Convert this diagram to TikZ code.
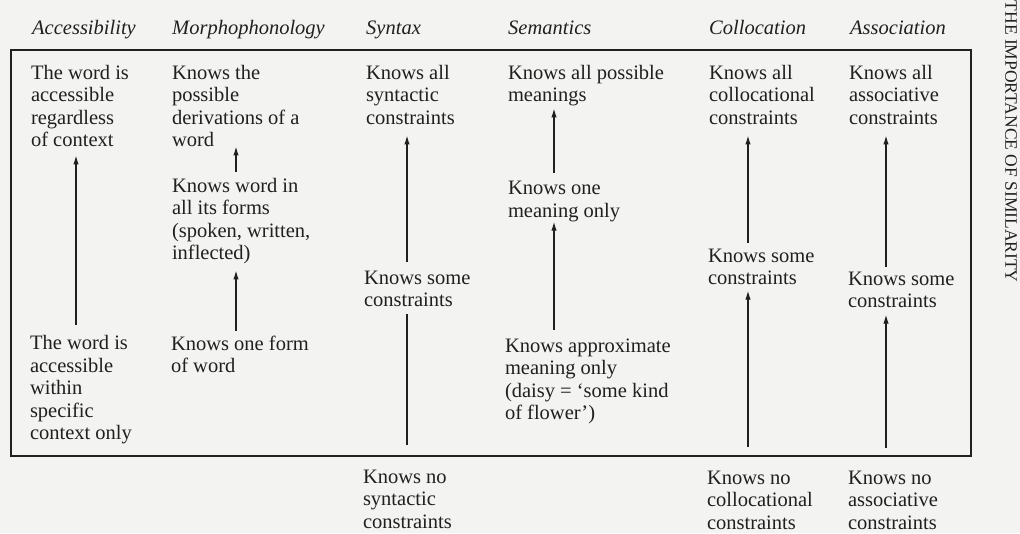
\documentclass[tikz,border=0pt]{standalone}
\usepackage{fontspec}
\setmainfont{Liberation Serif}
\usetikzlibrary{arrows.meta}
\definecolor{bg}{RGB}{243,243,241}
\definecolor{ink}{RGB}{32,32,32}
\begin{document}
\begin{tikzpicture}[x=1pt,y=-1pt,
  txt/.style={anchor=north west,inner sep=0pt,outer sep=0pt,align=left,text=ink,
    font=\fontsize{20.5}{22.5}\selectfont,execute at begin node=\strut,execute at end node=\strut},
  hdr/.style={anchor=base west,inner sep=0pt,text=ink,font=\fontsize{20.5}{22.5}\selectfont\itshape},
  arr/.style={draw=ink,line width=1.25pt,-{Latex[length=9pt,width=5.5pt]}},
  ln/.style={draw=ink,line width=1.25pt},
  frame/.style={draw=ink,line width=1.8pt}]
\useasboundingbox[fill=bg] (0,0) rectangle (1020,533);

% running head
\node[rotate=-90,anchor=west,inner sep=0pt,text=ink,font=\fontsize{17.5}{20}\selectfont] (runhead) at (1011,0.5) {THE IMPORTANCE OF SIMILARITY};

% headers
\node[hdr] (hA) at (32,34) {Accessibility};
\node[hdr] (hM) at (172,34) {Morphophonology};
\node[hdr] (hS) at (366,34) {Syntax};
\node[hdr] (hE) at (508,34) {Semantics};
\node[hdr] (hC) at (709,34) {Collocation};
\node[hdr] (hX) at (850,34) {Association};

% frame
\draw[frame] (11,50) rectangle (971,456);

% top row
\node[txt] (accT) at (31,65.25) {The word is\\accessible\\regardless\\of context};
\node[txt] (morT) at (172,65.25) {Knows the\\possible\\derivations of a\\word};
\node[txt] (synT) at (366,65.25) {Knows all\\syntactic\\constraints};
\node[txt] (semT) at (508,65.25) {Knows all possible\\meanings};
\node[txt] (colT) at (709,65.25) {Knows all\\collocational\\constraints};
\node[txt] (assT) at (849,65.25) {Knows all\\associative\\constraints};

% middle
\node[txt] (morM) at (172,178.25) {Knows word in\\all its forms\\(spoken, written,\\inflected)};
\node[txt] (semM) at (508,181.25) {Knows one\\meaning only};
\node[txt] (synM) at (364,270.75) {Knows some\\constraints};
\node[txt] (colM) at (708,248.75) {Knows some\\constraints};
\node[txt] (assM) at (848,271.75) {Knows some\\constraints};

% lower
\node[txt] (accB) at (30,335.75) {The word is\\accessible\\within\\specific\\context only};
\node[txt] (morB) at (171,335.75) {Knows one form\\of word};
\node[txt] (semB) at (505,338.75) {Knows approximate\\meaning only\\(daisy = ‘some kind\\of flower’)};

% outside
\node[txt] (synB) at (363,469.75) {Knows no\\syntactic\\constraints};
\node[txt] (colB) at (707,470.75) {Knows no\\collocational\\constraints};
\node[txt] (assB) at (848,470.75) {Knows no\\associative\\constraints};

% arrow columns
\coordinate (xa) at (76,0);
\coordinate (xm) at (236,0);
\coordinate (xs) at (407,0);
\coordinate (xe) at (554,0);
\coordinate (xc) at (748,0);
\coordinate (xx) at (886,0);

\draw[arr,shorten <=10.75pt,shorten >=1.75pt] (accB.north -| xa) -- (accT.south -| xa);
\draw[arr,shorten <=6.25pt,shorten >=-7.25pt] (morM.north -| xm) -- (morT.south -| xm);
\draw[arr,shorten <=4.75pt,shorten >=3.75pt] (morB.north -| xm) -- (morM.south -| xm);
\draw[arr,shorten <=8.75pt,shorten >=4.25pt] (synM.north -| xs) -- (synT.south -| xs);
\draw[ln,shorten <=24.75pt,shorten >=0.25pt] (synB.north -| xs) -- (synM.south -| xs);
\draw[arr,shorten <=8.25pt,shorten >=-0.25pt] (semM.north -| xe) -- (semT.south -| xe);
\draw[arr,shorten <=8.75pt,shorten >=-2.25pt] (semB.north -| xe) -- (semM.south -| xe);
\draw[arr,shorten <=5.75pt,shorten >=4.25pt] (colM.north -| xc) -- (colT.south -| xc);
\draw[arr,shorten <=23.75pt,shorten >=-0.75pt] (colB.north -| xc) -- (colM.south -| xc);
\draw[arr,shorten <=4.75pt,shorten >=4.25pt] (assM.north -| xx) -- (assT.south -| xx);
\draw[arr,shorten <=22.75pt,shorten >=0.25pt] (assB.north -| xx) -- (assM.south -| xx);
\end{tikzpicture}
\end{document}
